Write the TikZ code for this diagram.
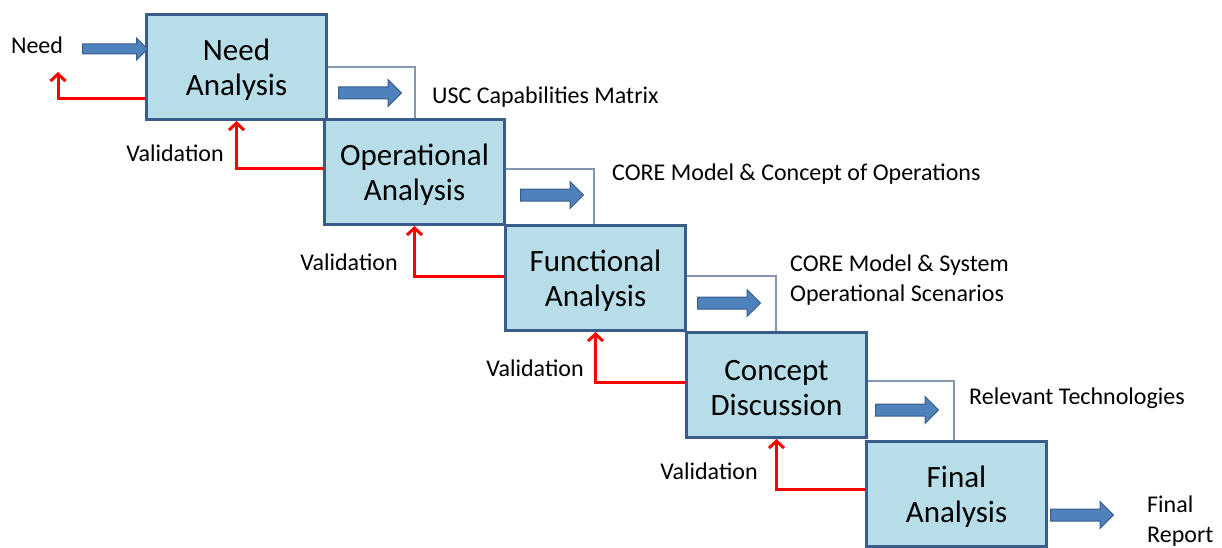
\documentclass[tikz,border=0pt]{standalone}
\usepackage{fontspec}
\setmainfont{Carlito}
\usetikzlibrary{shapes.arrows,arrows.meta}
\definecolor{boxfill}{HTML}{B7DDE8}
\definecolor{boxline}{HTML}{385D8A}
\definecolor{arrfill}{HTML}{4F81BD}
\definecolor{brackline}{HTML}{8497B0}
\begin{document}
\begin{tikzpicture}[x=1pt,y=-1pt,
  stage/.style={draw=boxline,line width=3pt,fill=boxfill,minimum width=180pt,minimum height=105pt,
    anchor=north west,inner sep=0pt},
  stagetext/.style={align=center,font=\fontsize{31}{35}\selectfont,inner sep=0pt},
  fat/.style={single arrow,draw=boxline,line width=1pt,fill=arrfill,minimum height=63pt,
    minimum width=26pt,single arrow head extend=7.5pt,inner xsep=0pt,inner ysep=5.5pt,anchor=west},
  bracket/.style={draw=brackline,line width=1.3pt},
  valid/.style={draw=red,line width=3pt,-{Straight Barb[length=7pt,width=15pt,line width=3pt]}},
  lbl/.style={font=\fontsize{24}{30}\selectfont,inner sep=0pt,align=left}]
\useasboundingbox (0,0) rectangle (1222,548);

% process stages
\node[stage,label={[stagetext,yshift=-3pt]center:Need\\Analysis}] (b1) at (145,13) {};
\node[stage,label={[stagetext,yshift=-3pt]center:Operational\\Analysis}] (b2) at (323,118) {};
\node[stage,label={[stagetext,yshift=-3pt]center:Functional\\Analysis}] (b3) at (504,224) {};
\node[stage,label={[stagetext,yshift=-3pt]center:Concept\\Discussion}] (b4) at (685,331) {};
\node[stage,label={[stagetext,yshift=-3pt]center:Final\\Analysis}] (b5) at (865,440) {};

% output brackets between stages
\draw[bracket] (b1.east) -- ++(87,0) coordinate (k1) -- (k1 |- b2.north);
\draw[bracket] ([yshift=3pt]b2.east) -- ++(88,0) coordinate (k2) -- (k2 |- b3.north);
\draw[bracket] ([yshift=2pt]b3.east) -- ++(89,0) coordinate (k3) -- (k3 |- b4.north);
\draw[bracket] ([yshift=4pt]b4.east) -- ++(86,0) coordinate (k4) -- (k4 |- b5.north);

% output arrows
\node[fat] (a1) at (338,93) {};
\node[fat] (a2) at (520,195) {};
\node[fat] (a3) at (697,303) {};
\node[fat] (a4) at (875,410) {};
\node[fat] (a5) at (1050,515) {};

% input arrow
\node[lbl,anchor=center] (need) at (37,45) {Need};
\node[fat,minimum height=65pt,minimum width=21pt,single arrow head extend=6pt,inner ysep=4.5pt] (a0) at (82,49) {};

% output labels
\node[lbl,anchor=west] (o1) at (432,97) {USC Capabilities Matrix};
\node[lbl,anchor=west] (o2) at (612,174) {CORE Model \& Concept of Operations};
\node[lbl,anchor=west] (o3) at (790,280) {CORE Model \& System\\Operational Scenarios};
\node[lbl,anchor=west] (o4) at (969,398) {Relevant Technologies};
\node[lbl,anchor=west] (o5) at (1147,521) {Final\\Report};

% validation feedback
\coordinate (n0) at (58,72);
\draw[valid] ([yshift=-31.5pt]b1.west) -| (n0);
\draw[valid] ([yshift=3pt]b2.west) -| (b1.south);
\draw[valid] ([yshift=2pt]b3.west) -| (b2.south);
\draw[valid] ([yshift=3pt]b4.west) -| (b3.south);
\draw[valid] ([yshift=5pt]b5.west) -| (b4.south);

\node[lbl,anchor=center] (v1) at (175,153) {Validation};
\node[lbl,anchor=center] (v2) at (349,262) {Validation};
\node[lbl,anchor=center] (v3) at (535,368) {Validation};
\node[lbl,anchor=center] (v4) at (709,471) {Validation};
\end{tikzpicture}
\end{document}
